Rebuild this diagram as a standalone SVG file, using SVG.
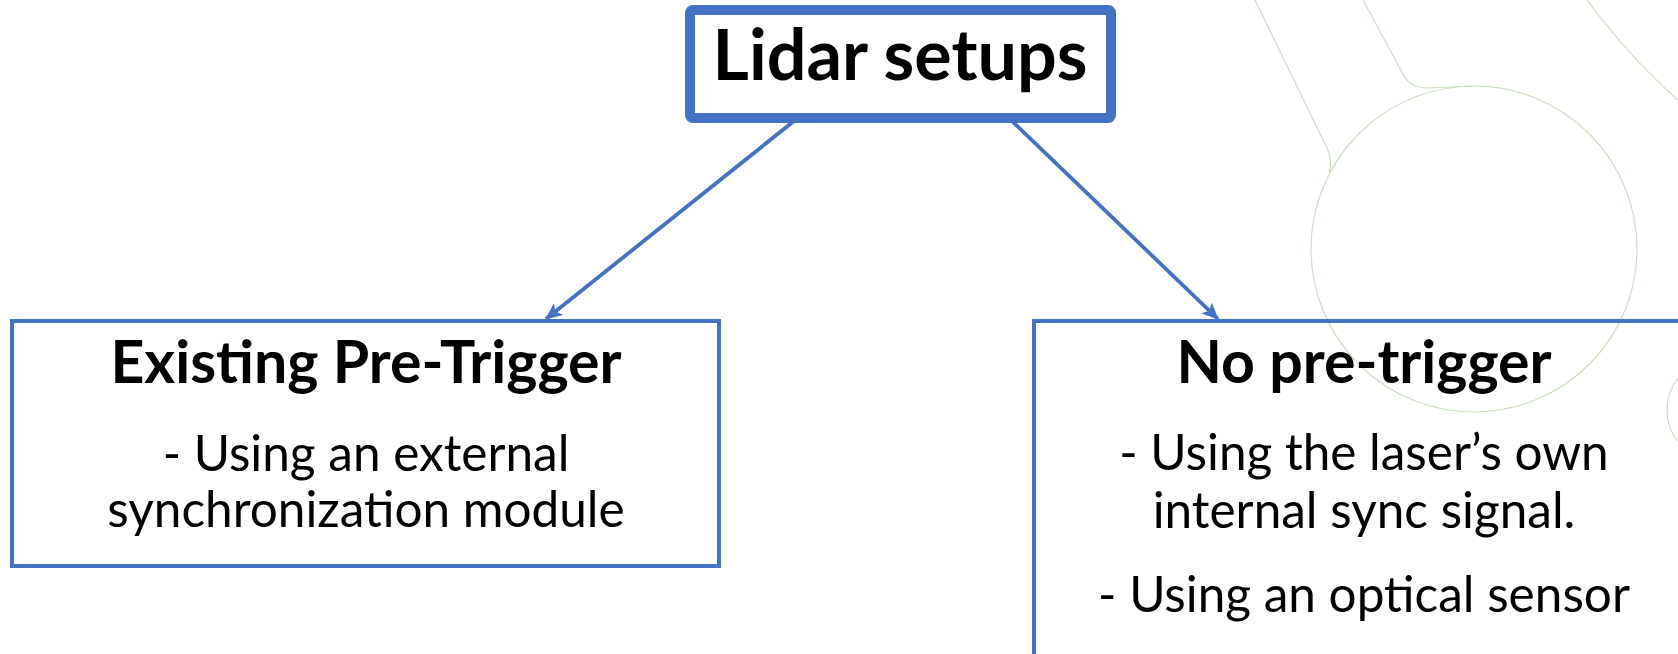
<svg xmlns="http://www.w3.org/2000/svg" width="1678" height="654" viewBox="0 0 1678 654">
<style>
.box{fill:none;stroke:#4472C4;stroke-width:4}
.top{fill:#fff;stroke:#4472C4;stroke-width:10}
.conn{fill:none;stroke:#4472C4;stroke-width:3.8}
.deco{fill:none;stroke:#c8e0bd;stroke-width:1.2}
.t{font-family:Lato,"Liberation Sans",sans-serif;fill:#000;text-anchor:middle}
.h1{font-size:70px;font-weight:700}
.h2{font-size:59px;font-weight:700}
.b{font-size:49.5px;font-weight:400}
</style>
<defs>
<marker id="arr" viewBox="0 0 17 15" refX="16" refY="7.5" markerWidth="17" markerHeight="15" markerUnits="userSpaceOnUse" orient="auto">
<path d="M0,0 L17,7.5 L0,15 L4,7.5 z" fill="#4472C4"/>
</marker>
</defs>
<rect width="1678" height="654" fill="#fff"/>
<g id="background">
<path class="deco" d="M1255,0 L1327,148 Q1333,162 1329,172"/>
<path class="deco" d="M1363,0 L1404,76 Q1411,88 1428,88 L1474,86"/>
<circle class="deco" cx="1474" cy="249" r="163"/>
<path class="deco" d="M1587,0 Q1630,58 1678,100"/>
<circle class="deco" cx="1717" cy="410" r="50"/>
</g>
<g id="connectors">
<line class="conn" x1="794" y1="121" x2="546" y2="319" marker-end="url(#arr)"/>
<line class="conn" x1="1012" y1="121" x2="1218" y2="319" marker-end="url(#arr)"/>
</g>
<g id="node-lidar">
<rect class="top" x="690" y="10" width="421" height="108" rx="3"/>
<text class="t h1" x="900" y="80">Lidar setups</text>
</g>
<g id="node-existing">
<rect class="box" x="12" y="321" width="707" height="245"/>
<text class="t h2" x="366" y="383">Existing Pre-Trigger</text>
<text class="t b" x="366" y="471">- Using an external</text>
<text class="t b" x="366" y="527">synchronization module</text>
</g>
<g id="node-none">
<rect class="box" x="1034" y="321" width="720" height="400"/>
<text class="t h2" x="1364" y="383">No pre-trigger</text>
<text class="t b" x="1364" y="470">- Using the laser’s own</text>
<text class="t b" x="1364" y="528">internal sync signal.</text>
<text class="t b" x="1364" y="612">- Using an optical sensor</text>
</g>
</svg>
